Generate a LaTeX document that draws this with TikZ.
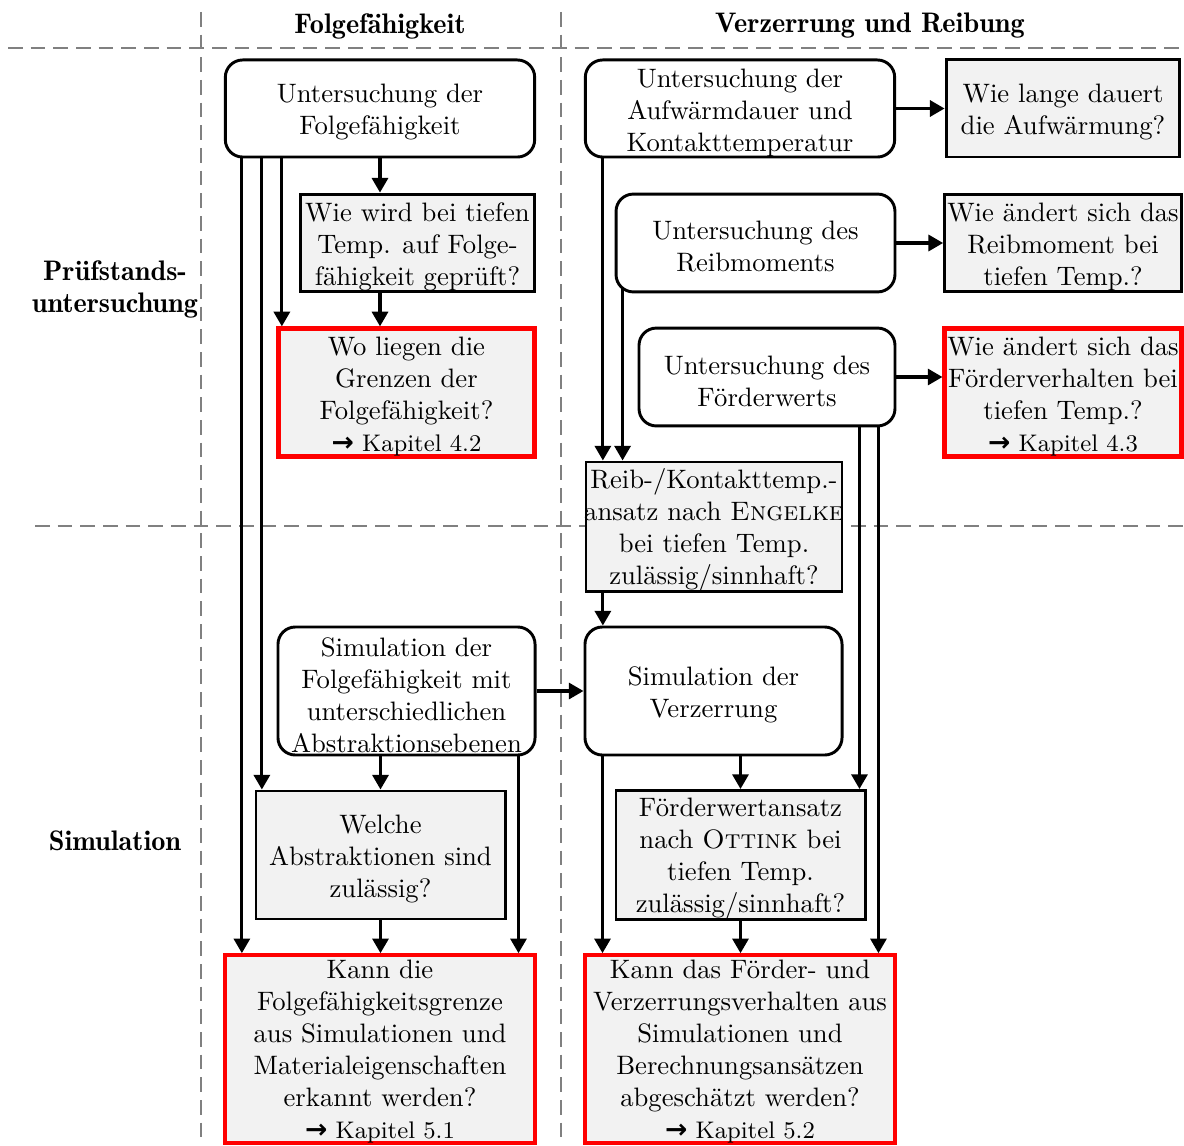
\documentclass[tikz,border=0pt]{standalone}
\usepackage{tikz}
\usepackage{fontspec}
\usetikzlibrary{positioning,arrows.meta}

\newfontfamily\arrowfont{DejaVu Sans}
\newfontfamily\demifont{lmromandemi10-regular.otf}
\definecolor{boxgray}{RGB}{242,242,242}
\newcommand{\oben}{\rule{0pt}{9.9pt}}
\newcommand{\obenk}{\rule{0pt}{8.5pt}}
\tikzset{
  box/.style={align=center, inner xsep=1pt, inner ysep=0pt},
  task/.style={box, draw, rounded corners=6.5pt, line width=1.1pt, fill=white},
  question/.style={box, draw, line width=1.1pt, fill=boxgray},
  result/.style={box, draw=red, line width=1.6pt, fill=boxgray},
  flow/.style={-{Triangle[length=5.5pt,width=6pt]}, line width=1.2pt},
  lane/.style={gray, dash pattern=on 5.5pt off 3pt, line width=0.7pt},
  head/.style={font=\demifont\fontsize{10.6}{12}\selectfont, align=center},
}
\newcommand{\kapitel}[1]{{\small{\normalsize\arrowfont\bfseries →} Kapitel #1}}

\begin{document}
\begin{tikzpicture}[x=0.375pt, y=-0.375pt]
  \useasboundingbox (0,0) rectangle (1184,1145);

  % raster
  \draw[lane] (8,48) -- (1184,48);
  \draw[lane] (35,526) -- (1184,526);
  \draw[lane] (201,12) -- (201,1145);
  \draw[lane] (561,12) -- (561,1145);

  % kopfzeile und zeilen
  \node[head] (hfolge) at (380,26) {Folgefähigkeit};
  \node[head] (hverz) at (870,26) {Verzerrung und Reibung};
  \node[head] (rpruef) at (115,289) {Prüfstands-\\untersuchung};
  \node[head] (rsim) at (115,841) {Simulation};

  % folgefaehigkeit
  \node[task, minimum width=116pt, minimum height=36.4pt] (ufolge) at (380,108.5) {\oben Untersuchung der\\Folgefähigkeit};
  \node[question, minimum width=88pt, minimum height=36.7pt] (qpruef) at (417.5,243) {\oben Wie wird bei tiefen\\Temp. auf Folge-\\fähigkeit geprüft?};
  \node[result, minimum width=96pt, minimum height=48pt] (rgrenz) at (406.5,392.5) {\oben Wo liegen die\\Grenzen der\\Folgefähigkeit?\\\kapitel{4.2}};
  \node[task, minimum width=96.4pt, minimum height=48pt] (sfolge) at (406.5,691) {\oben Simulation der\\Folgefähigkeit mit\\unterschiedlichen\\Abstraktionsebenen};
  \node[question, minimum width=93.4pt, minimum height=48pt] (qabstr) at (380.5,855) {\oben Welche\\Abstraktionen sind\\zulässig?};
  \node[result, minimum width=116pt, minimum height=70pt] (rsimf) at (380,1049) {\obenk Kann die\\Folgefähigkeitsgrenze\\aus Simulationen und\\Materialeigenschaften\\erkannt werden?\\\kapitel{5.1}};

  % verzerrung und reibung
  \node[task, minimum width=116pt, minimum height=36.4pt] (uwarm) at (740,108.5) {\oben Untersuchung der\\Aufwärmdauer und\\Kontakttemperatur};
  \node[question, minimum width=87.7pt, minimum height=36.4pt] (qwarm) at (1063,108.5) {\oben Wie lange dauert\\die Aufwärmung?};
  \node[task, minimum width=104.6pt, minimum height=36.7pt] (ureib) at (755.5,243) {\oben Untersuchung des\\Reibmoments};
  \node[question, minimum width=87.7pt, minimum height=36.7pt] (qreib) at (1063,243) {\oben Wie ändert sich das\\Reibmoment bei\\tiefen Temp.?};
  \node[task, minimum width=96pt, minimum height=36.7pt] (ufoerd) at (767,377) {\oben Untersuchung des\\Förderwerts};
  \node[result, minimum width=87.7pt, minimum height=48pt] (rfoerd) at (1063,392.5) {\oben Wie ändert sich das\\Förderverhalten bei\\tiefen Temp.?\\\kapitel{4.3}};
  \node[question, minimum width=96pt, minimum height=48pt] (qengel) at (714,526.5) {\oben Reib-/Kontakttemp.-\\\makebox[93pt]{ansatz nach \textsc{Engelke}}\\bei tiefen Temp.\\zulässig/sinnhaft?};
  \node[task, minimum width=96.4pt, minimum height=48pt] (sverz) at (713.5,691) {\oben Simulation der\\Verzerrung};
  \node[question, minimum width=93.4pt, minimum height=48pt] (qottink) at (740.5,855) {\oben Förderwertansatz\\nach \textsc{Ottink} bei\\tiefen Temp.\\zulässig/sinnhaft?};
  \node[result, minimum width=116pt, minimum height=70pt] (rsimv) at (740,1049) {\obenk Kann das Förder- und\\Verzerrungsverhalten aus\\Simulationen und\\Berechnungsansätzen\\abgeschätzt werden?\\\kapitel{5.2}};

  % abzweigpunkte
  \path (ufolge.south west) ++(18,0) coordinate (f1) ++(20,0) coordinate (f2) ++(20,0) coordinate (f3);
  \path (uwarm.south west) ++(19,0) coordinate (w1);
  \path (ureib.south west) ++(8,-4) coordinate (r1);
  \path (ufoerd.south east) ++(-37,0) coordinate (v1) ++(19,0) coordinate (v2);
  \path (sfolge.south east) ++(-18,0) coordinate (s1);
  \path (sverz.south west) ++(19,0) coordinate (s2);

  % pfeile links
  \draw[flow] (ufolge.south) -- (ufolge.south |- qpruef.north);
  \draw[flow] (ufolge.south |- qpruef.south) -- (ufolge.south |- rgrenz.north);
  \draw[flow] (f3) -- (f3 |- rgrenz.north);
  \draw[flow] (f2) -- (f2 |- qabstr.north);
  \draw[flow] (f1) -- (f1 |- rsimf.north);
  \draw[flow] (qabstr.north |- sfolge.south) -- (qabstr.north);
  \draw[flow] (s1) -- (s1 |- rsimf.north);
  \draw[flow] (qabstr.south) -- (qabstr.south |- rsimf.north);
  \draw[flow] (sfolge.east) -- (sverz.west);

  % pfeile rechts
  \draw[flow] (uwarm.east) -- (qwarm.west);
  \draw[flow] (ureib.east) -- (qreib.west);
  \draw[flow] (ufoerd.east) -- (ufoerd.east -| rfoerd.west);
  \draw[flow] (w1) -- (w1 |- qengel.north);
  \draw[flow] (r1) -- (r1 |- qengel.north);
  \draw[flow] (w1 |- qengel.south) -- (w1 |- sverz.north);
  \draw[flow] (v1) -- (v1 |- qottink.north);
  \draw[flow] (v2) -- (v2 |- rsimv.north);
  \draw[flow] (qottink.north |- sverz.south) -- (qottink.north);
  \draw[flow] (s2) -- (s2 |- rsimv.north);
  \draw[flow] (qottink.south) -- (qottink.south |- rsimv.north);
\end{tikzpicture}
\end{document}
